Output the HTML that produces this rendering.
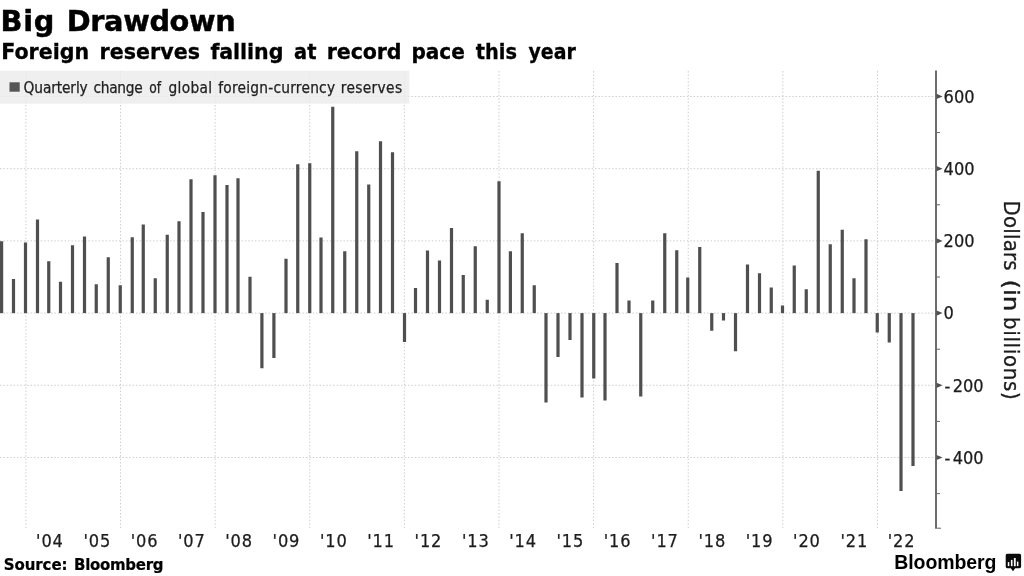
<!DOCTYPE html>
<html><head><meta charset="utf-8"><title>Big Drawdown</title>
<style>
html,body{margin:0;padding:0;background:#fff;}
body{width:1024px;height:576px;overflow:hidden;}
svg{display:block}
.t1{font-family:"DejaVu Sans","Liberation Sans",sans-serif;font-weight:bold;font-size:28.8px;fill:#000;stroke:#000;stroke-width:0.45px}
.t2{font-family:"DejaVu Sans","Liberation Sans",sans-serif;font-weight:bold;font-size:20.6px;fill:#000;stroke:#000;stroke-width:0.3px}
.lg{font-family:"DejaVu Sans Condensed","Liberation Sans",sans-serif;font-size:15.3px;fill:#222;stroke:#222;stroke-width:0.25px}
.ax{font-family:"DejaVu Sans Condensed","Liberation Sans",sans-serif;font-size:18px;fill:#1c1c1c;stroke:#1c1c1c;stroke-width:0.25px}
.yl{font-family:"DejaVu Sans Condensed","Liberation Sans",sans-serif;font-size:22px;fill:#1c1c1c;stroke:#1c1c1c;stroke-width:0.3px}
.src{font-family:"DejaVu Sans","Liberation Sans",sans-serif;font-weight:bold;font-size:15px;fill:#000;stroke:#000;stroke-width:0.2px}
.bb{font-family:"Liberation Sans",sans-serif;font-weight:bold;font-size:19.5px;fill:#000}
</style></head><body>
<svg width="1024" height="576" viewBox="0 0 1024 576">
<rect width="1024" height="576" fill="#fff"/>
<text x="0.50" y="31.4" class="t1" style="letter-spacing:0.740px">Big</text>
<text x="66.75" y="31.4" class="t1" style="letter-spacing:-0.377px">Drawdown</text>
<text x="1.20" y="58.5" class="t2" style="letter-spacing:-0.001px">Foreign</text>
<text x="99.50" y="58.5" class="t2" style="letter-spacing:0.058px">reserves</text>
<text x="210.40" y="58.5" class="t2" style="letter-spacing:-0.066px">falling</text>
<text x="294.10" y="58.5" class="t2" textLength="22.35" lengthAdjust="spacingAndGlyphs">at</text>
<text x="326.80" y="58.5" class="t2" style="letter-spacing:-0.147px">record</text>
<text x="411.42" y="58.5" class="t2" textLength="53.52" lengthAdjust="spacingAndGlyphs">pace</text>
<text x="475.70" y="58.5" class="t2" textLength="41.24" lengthAdjust="spacingAndGlyphs">this</text>
<text x="528.50" y="58.5" class="t2" textLength="47.23" lengthAdjust="spacingAndGlyphs">year</text>
<g stroke="#cecece" stroke-width="1" stroke-dasharray="1.5 1.9">
<line x1="0" y1="457.52" x2="935" y2="457.52"/>
<line x1="0" y1="385.31" x2="935" y2="385.31"/>
<line x1="0" y1="313.1" x2="935" y2="313.1"/>
<line x1="0" y1="240.89" x2="935" y2="240.89"/>
<line x1="0" y1="168.68" x2="935" y2="168.68"/>
<line x1="0" y1="96.47" x2="935" y2="96.47"/>
<line x1="25.9" y1="71" x2="25.9" y2="529"/>
<line x1="120.52" y1="71" x2="120.52" y2="529"/>
<line x1="215.14" y1="71" x2="215.14" y2="529"/>
<line x1="309.76" y1="71" x2="309.76" y2="529"/>
<line x1="404.38" y1="71" x2="404.38" y2="529"/>
<line x1="499.0" y1="71" x2="499.0" y2="529"/>
<line x1="593.62" y1="71" x2="593.62" y2="529"/>
<line x1="688.24" y1="71" x2="688.24" y2="529"/>
<line x1="782.86" y1="71" x2="782.86" y2="529"/>
<line x1="877.48" y1="71" x2="877.48" y2="529"/>
</g>
<rect x="0" y="70.7" width="409.3" height="33" fill="#ebebeb" fill-opacity="0.8"/>
<rect x="9.5" y="82.3" width="10.2" height="9.4" fill="#555"/>
<text x="23.60" y="93" class="lg" style="letter-spacing:-0.123px">Quarterly</text>
<text x="93.60" y="93" class="lg" style="letter-spacing:-0.317px">change</text>
<text x="149.30" y="93" class="lg" textLength="11.86" lengthAdjust="spacingAndGlyphs">of</text>
<text x="168.60" y="93" class="lg" style="letter-spacing:0.289px">global</text>
<text x="218.30" y="93" class="lg" style="letter-spacing:0.236px">foreign-currency</text>
<text x="340.80" y="93" class="lg" style="letter-spacing:0.344px">reserves</text>
<text x="3.70" y="569.6" class="src" style="letter-spacing:-0.075px">Source:</text>
<text x="74.00" y="569.6" class="src" style="letter-spacing:-0.290px">Bloomberg</text>
<text x="894.30" y="568.7" class="bb" style="letter-spacing:-0.088px">Bloomberg</text>
<g fill="#4f4f4f">
<rect x="0.00" y="241.25" width="3.2" height="71.85"/>
<rect x="11.90" y="279.00" width="3.2" height="34.10"/>
<rect x="23.90" y="242.50" width="3.2" height="70.60"/>
<rect x="35.90" y="219.50" width="3.2" height="93.60"/>
<rect x="47.15" y="261.25" width="3.2" height="51.85"/>
<rect x="58.90" y="281.75" width="3.2" height="31.35"/>
<rect x="70.90" y="245.25" width="3.2" height="67.85"/>
<rect x="82.90" y="236.50" width="3.2" height="76.60"/>
<rect x="94.65" y="284.25" width="3.2" height="28.85"/>
<rect x="106.65" y="257.25" width="3.2" height="55.85"/>
<rect x="118.65" y="285.25" width="3.2" height="27.85"/>
<rect x="130.65" y="237.25" width="3.2" height="75.85"/>
<rect x="141.65" y="224.50" width="3.2" height="88.60"/>
<rect x="153.65" y="278.25" width="3.2" height="34.85"/>
<rect x="165.65" y="234.75" width="3.2" height="78.35"/>
<rect x="177.40" y="221.25" width="3.2" height="91.85"/>
<rect x="189.40" y="179.25" width="3.2" height="133.85"/>
<rect x="201.40" y="212.00" width="3.2" height="101.10"/>
<rect x="213.40" y="175.25" width="3.2" height="137.85"/>
<rect x="225.40" y="185.00" width="3.2" height="128.10"/>
<rect x="236.40" y="178.25" width="3.2" height="134.85"/>
<rect x="248.40" y="276.75" width="3.2" height="36.35"/>
<rect x="260.30" y="313.10" width="3.2" height="55.15"/>
<rect x="272.30" y="313.10" width="3.2" height="44.90"/>
<rect x="284.40" y="258.75" width="3.2" height="54.35"/>
<rect x="296.15" y="164.25" width="3.2" height="148.85"/>
<rect x="308.15" y="163.25" width="3.2" height="149.85"/>
<rect x="319.40" y="237.50" width="3.2" height="75.60"/>
<rect x="331.15" y="106.75" width="3.2" height="206.35"/>
<rect x="343.15" y="251.25" width="3.2" height="61.85"/>
<rect x="355.15" y="151.25" width="3.2" height="161.85"/>
<rect x="367.15" y="184.50" width="3.2" height="128.60"/>
<rect x="378.90" y="141.25" width="3.2" height="171.85"/>
<rect x="390.90" y="152.25" width="3.2" height="160.85"/>
<rect x="402.90" y="313.10" width="3.2" height="28.90"/>
<rect x="413.90" y="288.00" width="3.2" height="25.10"/>
<rect x="425.90" y="250.50" width="3.2" height="62.60"/>
<rect x="437.90" y="260.50" width="3.2" height="52.60"/>
<rect x="449.90" y="228.00" width="3.2" height="85.10"/>
<rect x="461.65" y="275.00" width="3.2" height="38.10"/>
<rect x="473.65" y="246.25" width="3.2" height="66.85"/>
<rect x="485.65" y="299.75" width="3.2" height="13.35"/>
<rect x="497.40" y="181.25" width="3.2" height="131.85"/>
<rect x="508.80" y="251.25" width="3.2" height="61.85"/>
<rect x="520.65" y="233.25" width="3.2" height="79.85"/>
<rect x="532.65" y="285.25" width="3.2" height="27.85"/>
<rect x="544.40" y="313.10" width="3.2" height="89.40"/>
<rect x="556.40" y="313.10" width="3.2" height="43.90"/>
<rect x="568.40" y="313.10" width="3.2" height="26.90"/>
<rect x="580.40" y="313.10" width="3.2" height="84.40"/>
<rect x="592.15" y="313.10" width="3.2" height="65.40"/>
<rect x="603.40" y="313.10" width="3.2" height="87.40"/>
<rect x="615.40" y="263.00" width="3.2" height="50.10"/>
<rect x="627.40" y="300.50" width="3.2" height="12.60"/>
<rect x="639.15" y="313.10" width="3.2" height="83.40"/>
<rect x="651.15" y="300.50" width="3.2" height="12.60"/>
<rect x="663.15" y="233.25" width="3.2" height="79.85"/>
<rect x="675.15" y="250.25" width="3.2" height="62.85"/>
<rect x="686.15" y="277.50" width="3.2" height="35.60"/>
<rect x="698.15" y="247.00" width="3.2" height="66.10"/>
<rect x="710.15" y="313.10" width="3.2" height="17.65"/>
<rect x="721.90" y="313.10" width="3.2" height="7.40"/>
<rect x="733.90" y="313.10" width="3.2" height="38.15"/>
<rect x="745.90" y="264.50" width="3.2" height="48.60"/>
<rect x="757.90" y="273.25" width="3.2" height="39.85"/>
<rect x="769.65" y="287.50" width="3.2" height="25.60"/>
<rect x="780.90" y="305.50" width="3.2" height="7.60"/>
<rect x="792.65" y="265.50" width="3.2" height="47.60"/>
<rect x="804.65" y="289.25" width="3.2" height="23.85"/>
<rect x="816.65" y="170.75" width="3.2" height="142.35"/>
<rect x="828.65" y="244.25" width="3.2" height="68.85"/>
<rect x="840.65" y="229.75" width="3.2" height="83.35"/>
<rect x="852.40" y="278.25" width="3.2" height="34.85"/>
<rect x="864.40" y="239.25" width="3.2" height="73.85"/>
<rect x="875.65" y="313.10" width="3.2" height="19.40"/>
<rect x="887.65" y="313.10" width="3.2" height="29.40"/>
<rect x="899.40" y="313.10" width="3.2" height="177.90"/>
<rect x="911.40" y="313.10" width="3.2" height="152.90"/>
</g>
<rect x="935" y="70.5" width="2" height="458.2" fill="#6c6c6c"/>
<rect x="937" y="493.12" width="3" height="1" fill="#666"/>
<path d="M936.5 454.92 L942.6 457.52 L936.5 460.12 Z" fill="#505050"/>
<text x="944.6" y="463.82" class="ax">-<tspan dx="2.3">400</tspan></text>
<rect x="937" y="420.92" width="3" height="1" fill="#666"/>
<path d="M936.5 382.71 L942.6 385.31 L936.5 387.91 Z" fill="#505050"/>
<text x="944.6" y="391.61" class="ax">-<tspan dx="2.3">200</tspan></text>
<rect x="937" y="348.71" width="3" height="1" fill="#666"/>
<path d="M936.5 310.50 L942.6 313.10 L936.5 315.70 Z" fill="#505050"/>
<text x="943.6" y="319.40" class="ax">0</text>
<rect x="937" y="276.50" width="3" height="1" fill="#666"/>
<path d="M936.5 238.29 L942.6 240.89 L936.5 243.49 Z" fill="#505050"/>
<text x="943.6" y="247.19" class="ax">200</text>
<rect x="937" y="204.29" width="3" height="1" fill="#666"/>
<path d="M936.5 166.08 L942.6 168.68 L936.5 171.28 Z" fill="#505050"/>
<text x="943.6" y="174.98" class="ax">400</text>
<rect x="937" y="132.08" width="3" height="1" fill="#666"/>
<path d="M936.5 93.87 L942.6 96.47 L936.5 99.07 Z" fill="#505050"/>
<text x="943.6" y="102.77" class="ax">600</text>
<rect x="937" y="527.7" width="4" height="1" fill="#666"/>
<text x="36.1" y="547.4" class="ax" textLength="26.8" lengthAdjust="spacing">'04</text>
<text x="83.4" y="547.4" class="ax" textLength="26.8" lengthAdjust="spacing">'05</text>
<text x="130.7" y="547.4" class="ax" textLength="26.8" lengthAdjust="spacing">'06</text>
<text x="178.0" y="547.4" class="ax" textLength="26.8" lengthAdjust="spacing">'07</text>
<text x="225.3" y="547.4" class="ax" textLength="26.8" lengthAdjust="spacing">'08</text>
<text x="272.6" y="547.4" class="ax" textLength="26.8" lengthAdjust="spacing">'09</text>
<text x="320.0" y="547.4" class="ax" textLength="26.8" lengthAdjust="spacing">'10</text>
<text x="367.3" y="547.4" class="ax" textLength="26.8" lengthAdjust="spacing">'11</text>
<text x="414.6" y="547.4" class="ax" textLength="26.8" lengthAdjust="spacing">'12</text>
<text x="461.9" y="547.4" class="ax" textLength="26.8" lengthAdjust="spacing">'13</text>
<text x="509.2" y="547.4" class="ax" textLength="26.8" lengthAdjust="spacing">'14</text>
<text x="556.5" y="547.4" class="ax" textLength="26.8" lengthAdjust="spacing">'15</text>
<text x="603.8" y="547.4" class="ax" textLength="26.8" lengthAdjust="spacing">'16</text>
<text x="651.1" y="547.4" class="ax" textLength="26.8" lengthAdjust="spacing">'17</text>
<text x="698.4" y="547.4" class="ax" textLength="26.8" lengthAdjust="spacing">'18</text>
<text x="745.8" y="547.4" class="ax" textLength="26.8" lengthAdjust="spacing">'19</text>
<text x="793.1" y="547.4" class="ax" textLength="26.8" lengthAdjust="spacing">'20</text>
<text x="840.4" y="547.4" class="ax" textLength="26.8" lengthAdjust="spacing">'21</text>
<text x="887.7" y="547.4" class="ax" textLength="26.8" lengthAdjust="spacing">'22</text>
<g transform="translate(1003.5,0) rotate(90)">
<text x="200.50" y="0" class="yl" style="letter-spacing:0.198px">Dollars</text>
<text x="279.46" y="0" class="yl" textLength="31.96" lengthAdjust="spacingAndGlyphs">(in</text>
<text x="317.00" y="0" class="yl" style="letter-spacing:0.683px">billions)</text>
</g>
<g>
<path d="M1007.3 553.7 h12.2 a1.6 1.6 0 0 1 1.6 1.6 v11.3 a1.6 1.6 0 0 1 -1.6 1.6 h-4.3 l-2.2 3.1 l-2.2 -3.1 h-3.5 a1.6 1.6 0 0 1 -1.6 -1.6 v-11.3 a1.6 1.6 0 0 1 1.6 -1.6 z" fill="#0a0a0a"/>
<rect x="1007.8" y="562.1" width="1.5" height="4" fill="#fff"/>
<rect x="1010.9" y="559.9" width="1.6" height="6.2" fill="#fff"/>
<rect x="1013.9" y="558" width="1.8" height="8.2" fill="#fff"/>
<rect x="1016.9" y="561.6" width="1.5" height="4.5" fill="#fff"/>
</g>
</svg>
</body></html>
